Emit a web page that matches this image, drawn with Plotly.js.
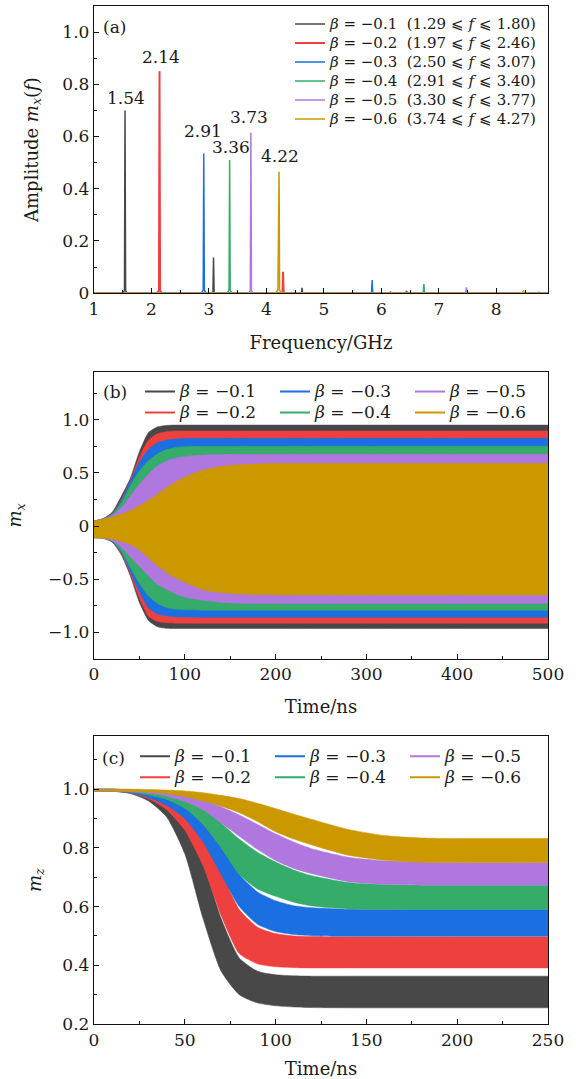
<!DOCTYPE html>
<html><head><meta charset="utf-8">
<script src="https://cdn.plot.ly/plotly-3.0.1.min.js"></script>
<style>html,body{margin:0;padding:0;background:#fff;} #chart{width:576px;height:1079px;}</style>
</head><body><div id="chart"></div>
<script>
// ---------- data ----------
const betas = [-0.1, -0.2, -0.3, -0.4, -0.5, -0.6];
const rangeLo = [1.29, 1.97, 2.50, 2.91, 3.30, 3.74];
const rangeHi = [1.80, 2.46, 3.07, 3.40, 3.77, 4.27];
const colors = ['#484848', '#ef4040', '#1c6fe0', '#35ac69', '#b077de', '#cb9800'];

// (a) spectra
const peakFreq = [1.54, 2.14, 2.91, 3.36, 3.73, 4.22];
const peakAmp  = [0.70, 0.85, 0.535, 0.51, 0.615, 0.465];
const peakLabels = ['1.54', '2.14', '2.91', '3.36', '3.73', '4.22'];
const specFreq = [
  [1.0, 1.47, 1.51, 1.53, 1.54, 1.55, 1.57, 1.61, 3.04, 3.07, 3.08, 3.09, 3.12, 4.59, 4.61, 4.62, 4.63, 4.65, 6.13, 6.16, 6.19, 8.9],
  [1.0, 2.07, 2.11, 2.13, 2.14, 2.15, 2.17, 2.21, 4.25, 4.28, 4.29, 4.30, 4.33, 6.41, 6.44, 6.47, 8.9],
  [1.0, 2.84, 2.88, 2.90, 2.91, 2.92, 2.94, 2.98, 5.80, 5.83, 5.84, 5.85, 5.88, 8.70, 8.74, 8.78, 8.9],
  [1.0, 3.29, 3.33, 3.35, 3.36, 3.37, 3.39, 3.43, 6.70, 6.73, 6.74, 6.75, 6.78, 8.9],
  [1.0, 3.66, 3.70, 3.72, 3.73, 3.74, 3.76, 3.80, 7.44, 7.47, 7.48, 7.49, 7.52, 8.9],
  [1.0, 4.12, 4.17, 4.20, 4.22, 4.23, 4.25, 4.30, 8.43, 8.46, 8.47, 8.48, 8.51, 8.9]
];
const specAmp = [
  [0, 0, 0.003, 0.01, 0.70, 0.01, 0.003, 0, 0, 0.003, 0.137, 0.003, 0, 0, 0.001, 0.02, 0.001, 0, 0, 0.004, 0, 0],
  [0, 0, 0.003, 0.01, 0.85, 0.01, 0.003, 0, 0, 0.002, 0.082, 0.002, 0, 0, 0.006, 0, 0],
  [0, 0, 0.004, 0.012, 0.535, 0.012, 0.004, 0, 0, 0.002, 0.05, 0.002, 0, 0, 0.003, 0, 0],
  [0, 0, 0.004, 0.012, 0.51, 0.012, 0.004, 0, 0, 0.002, 0.035, 0.002, 0, 0],
  [0, 0, 0.003, 0.01, 0.615, 0.01, 0.003, 0, 0, 0.002, 0.022, 0.002, 0, 0],
  [0, 0, 0.004, 0.012, 0.465, 0.012, 0.004, 0, 0, 0.002, 0.01, 0.002, 0, 0]
];

// (b) m_x envelope (upper / lower) versus time
const timeB = [0, 10, 20, 30, 40, 50, 60, 70, 80, 90, 100, 120, 140, 160, 180, 200, 250, 300, 400, 500];
const upperB = [
  [0.047, 0.07, 0.13, 0.28, 0.45, 0.70, 0.88, 0.935, 0.948, 0.951, 0.951, 0.951, 0.951, 0.951, 0.951, 0.951, 0.951, 0.951, 0.951, 0.951],
  [0.047, 0.068, 0.12, 0.25, 0.43, 0.65, 0.81, 0.87, 0.889, 0.895, 0.895, 0.895, 0.895, 0.895, 0.895, 0.895, 0.895, 0.895, 0.895, 0.895],
  [0.047, 0.066, 0.115, 0.24, 0.42, 0.60, 0.72, 0.785, 0.81, 0.82, 0.825, 0.826, 0.826, 0.826, 0.826, 0.826, 0.826, 0.826, 0.826, 0.826],
  [0.047, 0.065, 0.11, 0.22, 0.38, 0.52, 0.615, 0.68, 0.72, 0.74, 0.748, 0.751, 0.751, 0.751, 0.751, 0.751, 0.751, 0.751, 0.751, 0.751],
  [0.047, 0.064, 0.10, 0.17, 0.28, 0.39, 0.49, 0.565, 0.612, 0.64, 0.655, 0.67, 0.674, 0.675, 0.675, 0.675, 0.675, 0.675, 0.675, 0.675],
  [0.047, 0.063, 0.085, 0.11, 0.145, 0.19, 0.24, 0.30, 0.36, 0.415, 0.46, 0.525, 0.56, 0.577, 0.585, 0.589, 0.59, 0.59, 0.59, 0.59]
];
const lowerB = [
  [-0.11, -0.115, -0.15, -0.27, -0.47, -0.72, -0.89, -0.95, -0.964, -0.966, -0.966, -0.966, -0.966, -0.966, -0.966, -0.966, -0.966, -0.966, -0.966, -0.966],
  [-0.11, -0.115, -0.15, -0.26, -0.45, -0.68, -0.85, -0.90, -0.912, -0.916, -0.916, -0.916, -0.916, -0.916, -0.916, -0.916, -0.916, -0.916, -0.916, -0.916],
  [-0.11, -0.115, -0.15, -0.25, -0.43, -0.62, -0.77, -0.83, -0.847, -0.855, -0.858, -0.86, -0.86, -0.86, -0.86, -0.86, -0.86, -0.86, -0.86, -0.86],
  [-0.11, -0.115, -0.14, -0.24, -0.39, -0.54, -0.66, -0.73, -0.768, -0.785, -0.79, -0.794, -0.794, -0.794, -0.794, -0.794, -0.794, -0.794, -0.794, -0.794],
  [-0.11, -0.115, -0.14, -0.20, -0.29, -0.38, -0.47, -0.55, -0.596, -0.64, -0.67, -0.70, -0.72, -0.728, -0.731, -0.731, -0.731, -0.731, -0.731, -0.731],
  [-0.11, -0.115, -0.125, -0.145, -0.175, -0.225, -0.30, -0.375, -0.44, -0.49, -0.53, -0.60, -0.628, -0.64, -0.646, -0.649, -0.65, -0.65, -0.65, -0.65]
];

// (c) m_z envelope (upper / lower) versus time
const timeC = [0, 10, 20, 30, 40, 50, 60, 70, 80, 90, 100, 110, 120, 140, 160, 180, 200, 250];
const upperC = [
  [1.0, 1.0, 0.995, 0.98, 0.945, 0.87, 0.75, 0.56, 0.425, 0.38, 0.368, 0.364, 0.363, 0.363, 0.363, 0.363, 0.363, 0.363],
  [1.0, 1.0, 0.996, 0.987, 0.965, 0.925, 0.85, 0.72, 0.59, 0.53, 0.508, 0.50, 0.498, 0.497, 0.497, 0.497, 0.497, 0.497],
  [1.0, 1.0, 0.997, 0.99, 0.975, 0.945, 0.89, 0.81, 0.71, 0.65, 0.62, 0.603, 0.596, 0.591, 0.59, 0.59, 0.59, 0.59],
  [1.0, 1.0, 0.998, 0.994, 0.985, 0.965, 0.935, 0.885, 0.83, 0.785, 0.752, 0.725, 0.705, 0.682, 0.675, 0.673, 0.673, 0.673],
  [1.0, 1.0, 0.999, 0.996, 0.99, 0.98, 0.963, 0.94, 0.912, 0.88, 0.848, 0.82, 0.797, 0.768, 0.756, 0.752, 0.75, 0.75],
  [1.0, 1.0, 1.0, 0.999, 0.997, 0.994, 0.988, 0.979, 0.968, 0.952, 0.934, 0.915, 0.897, 0.863, 0.842, 0.834, 0.832, 0.832]
];
const lowerC = [
  [0.994, 0.993, 0.985, 0.96, 0.905, 0.78, 0.56, 0.38, 0.30, 0.272, 0.262, 0.258, 0.256, 0.255, 0.255, 0.255, 0.255, 0.255],
  [0.994, 0.993, 0.987, 0.967, 0.93, 0.86, 0.74, 0.57, 0.44, 0.405, 0.395, 0.392, 0.391, 0.391, 0.391, 0.391, 0.391, 0.391],
  [0.994, 0.993, 0.988, 0.972, 0.945, 0.90, 0.82, 0.71, 0.60, 0.54, 0.515, 0.505, 0.501, 0.499, 0.499, 0.499, 0.499, 0.499],
  [0.994, 0.993, 0.99, 0.98, 0.965, 0.935, 0.88, 0.80, 0.71, 0.66, 0.635, 0.615, 0.602, 0.592, 0.59, 0.59, 0.59, 0.59],
  [0.994, 0.993, 0.991, 0.986, 0.976, 0.958, 0.93, 0.885, 0.84, 0.795, 0.757, 0.73, 0.712, 0.685, 0.676, 0.673, 0.673, 0.673],
  [0.994, 0.993, 0.992, 0.99, 0.985, 0.975, 0.96, 0.942, 0.92, 0.89, 0.855, 0.83, 0.81, 0.775, 0.758, 0.751, 0.75, 0.75]
];

// tick labels
const xTicksA = [1, 2, 3, 4, 5, 6, 7, 8];
const yTicksA = [0, 0.2, 0.4, 0.6, 0.8, 1.0];
const yTickTextA = ['0', '0.2', '0.4', '0.6', '0.8', '1.0'];
const xTicksB = [0, 100, 200, 300, 400, 500];
const yTicksB = [-1.0, -0.5, 0, 0.5, 1.0];
const yTickTextB = ['\u22121.0', '\u22120.5', '0', '0.5', '1.0'];
const xTicksC = [0, 50, 100, 150, 200, 250];
const yTicksC = [0.2, 0.4, 0.6, 0.8, 1.0];
const yTickTextC = ['0.2', '0.4', '0.6', '0.8', '1.0'];

// ---------- helpers ----------
const FONT = 'DejaVu Serif';
const TXT = '#1a1a1a';
const W = 576, H = 1079;
const PL = 94, PR = 548, PT = 6, PB = 1024.5;
const fx = px => (px - PL) / (PR - PL);
const fy = py => (PB - py) / (PB - PT);
const fmtB = b => '\u2212' + Math.abs(b).toFixed(1);
const betaName = b => '<i>\u03b2</i> = ' + fmtB(b);
const sized = (s, px) => '<span style="font-size:' + px + 'px">' + s + '</span>';

const traces = [];
// (a)
betas.forEach((b, i) => {
  traces.push({
    x: specFreq[i], y: specAmp[i], type: 'scatter', mode: 'lines',
    line: {color: colors[i], width: i === 1 ? 2 : 1.5},
    name: sized(betaName(b) + '  (' + rangeLo[i].toFixed(2) + ' \u2A7D <i>f</i> \u2A7D ' + rangeHi[i].toFixed(2) + ')', 15),
    xaxis: 'x', yaxis: 'y', legend: 'legend', hoverinfo: 'skip'
  });
});
// (b) and (c) bands: lower edge, then upper edge filled down to it
function band(t, up, lo, i, xa, ya) {
  const ln = {color: colors[i], width: 0.5, shape: 'spline', smoothing: 0.6};
  return [
    {x: t, y: lo, type: 'scatter', mode: 'lines', line: ln, xaxis: xa, yaxis: ya, showlegend: false, hoverinfo: 'skip'},
    {x: t, y: up, type: 'scatter', mode: 'lines', line: ln, fill: 'tonexty', fillcolor: colors[i],
      xaxis: xa, yaxis: ya, showlegend: false, hoverinfo: 'skip'}
  ];
}
betas.forEach((b, i) => traces.push(...band(timeB, upperB[i], lowerB[i], i, 'x2', 'y2')));
betas.forEach((b, i) => traces.push(...band(timeC, upperC[i], lowerC[i], i, 'x3', 'y3')));
// legend entries for (b), (c): row-major order of 3 columns
const legOrder = [0, 2, 4, 1, 3, 5];
['legend2', 'legend3'].forEach((lg, k) => {
  legOrder.forEach(i => {
    traces.push({
      x: [null], y: [null], type: 'scatter', mode: 'lines',
      line: {color: colors[i], width: 2},
      name: sized(betaName(betas[i]), 17), legend: lg,
      xaxis: k === 0 ? 'x2' : 'x3', yaxis: k === 0 ? 'y2' : 'y3', hoverinfo: 'skip'
    });
  });
});

const axBase = {
  showline: true, mirror: true, linecolor: '#111', linewidth: 1.2,
  ticks: 'inside', ticklen: 5, tickwidth: 1, tickcolor: '#111',
  showgrid: false, zeroline: false, automargin: false,
  tickfont: {family: FONT, size: 17, color: TXT}
};
const minor = (d, t0) => ({ticks: 'inside', ticklen: 3, tickwidth: 1, tickcolor: '#111', dtick: d, tick0: t0});
const ttl = (text, so, sz) => ({text: text, font: {family: FONT, size: sz || 17, color: TXT}, standoff: so});

const layout = {
  width: W, height: H,
  margin: {l: PL, r: W - PR, t: PT, b: H - PB},
  paper_bgcolor: '#fff', plot_bgcolor: '#fff',
  font: {family: FONT, size: 17, color: TXT},
  showlegend: true,
  xaxis: Object.assign({}, axBase, {anchor: 'y', domain: [0, 1], range: [1, 8.9], tickmode: 'array', tickvals: xTicksA,
    minor: minor(0.5, 1), title: ttl('Frequency/GHz', 18, 18)}),
  yaxis: Object.assign({}, axBase, {anchor: 'x', domain: [fy(293.3), fy(6)], range: [0, 1.1], tickmode: 'array', tickvals: yTicksA, ticktext: yTickTextA,
    minor: minor(0.1, 0), title: ttl('Amplitude <i>m</i><sub><i>x</i></sub>(<i>f</i>)', 19, 18)}),
  xaxis2: Object.assign({}, axBase, {anchor: 'y2', domain: [0, 1], range: [0, 500], tickmode: 'array', tickvals: xTicksB,
    minor: minor(50, 0), title: ttl('Time/ns', 17, 18)}),
  yaxis2: Object.assign({}, axBase, {anchor: 'x2', domain: [fy(659), fy(372.3)], range: [-1.25, 1.45], tickmode: 'array', tickvals: yTicksB, ticktext: yTickTextB,
    minor: minor(0.25, 0), title: ttl('<i>m</i><sub><i>x</i></sub>', 21, 18)}),
  xaxis3: Object.assign({}, axBase, {anchor: 'y3', domain: [0, 1], range: [0, 250], tickmode: 'array', tickvals: xTicksC,
    minor: minor(25, 0), title: ttl('Time/ns', 15, 18)}),
  yaxis3: Object.assign({}, axBase, {anchor: 'x3', domain: [fy(1024.5), fy(736.7)], range: [0.2, 1.18], tickmode: 'array', tickvals: yTicksC, ticktext: yTickTextC,
    minor: minor(0.1, 0.2), title: ttl('<i>m</i><sub><i>z</i></sub>', 16, 18)}),
  legend: {x: fx(290), y: fy(9.5), xanchor: 'left', yanchor: 'top', bgcolor: 'rgba(0,0,0,0)', borderwidth: 0,
    traceorder: 'normal', font: {family: FONT, size: 12.3, color: TXT}, tracegroupgap: 0},
  legend2: {orientation: 'h', x: fx(140), y: fy(376.2), xanchor: 'left', yanchor: 'top', bgcolor: 'rgba(0,0,0,0)', borderwidth: 0,
    traceorder: 'normal', entrywidth: 90, entrywidthmode: 'pixels', font: {family: FONT, size: 13.85, color: TXT}},
  legend3: {orientation: 'h', x: fx(135), y: fy(741.2), xanchor: 'left', yanchor: 'top', bgcolor: 'rgba(0,0,0,0)', borderwidth: 0,
    traceorder: 'normal', entrywidth: 90, entrywidthmode: 'pixels', font: {family: FONT, size: 13.85, color: TXT}},
  annotations: []
};

// panel labels
[['(a)', 114.5, 27], ['(b)', 115, 392], ['(c)', 113.5, 758]].forEach(p => {
  layout.annotations.push({text: p[0], xref: 'paper', yref: 'paper', x: fx(p[1]), y: fy(p[2]),
    xanchor: 'center', yanchor: 'middle', showarrow: false, font: {family: FONT, size: 17, color: TXT}});
});
// peak labels
const labelDx = [1, 1, -1, 1, -2, 1];
const labelDy = [0, 2, 11, 1, 4, 4];
peakLabels.forEach((s, i) => {
  layout.annotations.push({text: s, xref: 'x', yref: 'y', x: peakFreq[i], y: peakAmp[i], xanchor: 'center', yanchor: 'bottom',
    xshift: labelDx[i], yshift: labelDy[i], showarrow: false, font: {family: FONT, size: 17, color: TXT}});
});

Plotly.newPlot('chart', traces, layout, {staticPlot: true, displayModeBar: false});
</script>
</body></html>
